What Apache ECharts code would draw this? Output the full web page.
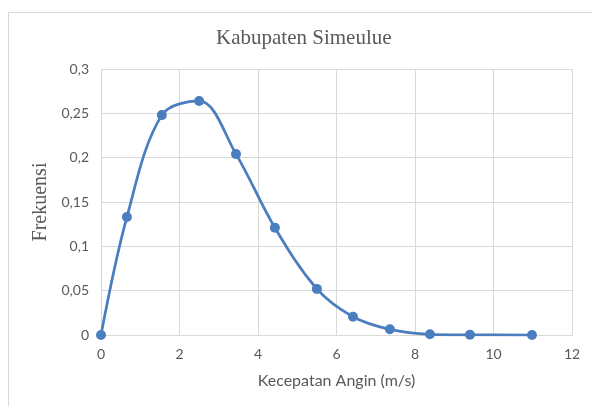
<!DOCTYPE html>
<html>
<head>
<meta charset="utf-8">
<script src="https://cdn.jsdelivr.net/npm/echarts@6/dist/echarts.min.js"></script>
<style>
  html, body { margin: 0; padding: 0; background: #fff; }
  #chart { width: 592px; height: 406px; }
</style>
</head>
<body>
<div id="chart"></div>
<script>
// kecepatan angin (m/s) dan frekuensi
const kecepatan = [0, 0.66, 1.55, 2.5, 3.44, 4.43, 5.5, 6.42, 7.36, 8.38, 9.4, 10.98];
const frekuensi = [0, 0.133, 0.248, 0.264, 0.204, 0.121, 0.052, 0.0206, 0.0064, 0.0008, 0.0002, 0];
const xTicks = { min: 0, max: 12, interval: 2 };
const yTicks = { min: 0, max: 0.3, interval: 0.05 };

let data = [];
for (let i = 0; i < kecepatan.length; i++) {
  data.push([kecepatan[i], frekuensi[i]]);
}

const grey = '#595959';
const chart = echarts.init(document.getElementById('chart'));
chart.setOption({
  animation: false,
  backgroundColor: '#fff',
  title: {
    text: 'Kabupaten Simeulue',
    left: 211,
    top: 23,
    textStyle: { fontFamily: 'Liberation Serif', fontSize: 21, fontWeight: 'normal', color: grey }
  },
  graphic: [{
    type: 'rect',
    shape: { x: 8.5, y: 12.5, width: 600, height: 420 },
    style: { fill: 'none', stroke: '#d9d9d9', lineWidth: 1 },
    silent: true
  }],
  grid: { left: 101, right: 20, top: 69, bottom: 71 },
  xAxis: {
    type: 'value',
    min: xTicks.min, max: xTicks.max, interval: xTicks.interval,
    name: 'Kecepatan Angin (m/s)',
    nameLocation: 'middle',
    nameGap: 38,
    nameTextStyle: { fontFamily: 'Lato', fontSize: 16, color: grey },
    axisLine: { lineStyle: { color: '#d9d9d9' } },
    axisTick: { show: false },
    axisLabel: { fontFamily: 'Lato', fontSize: 14, color: grey, margin: 12 },
    splitLine: { lineStyle: { color: '#d9d9d9' } }
  },
  yAxis: {
    type: 'value',
    min: yTicks.min, max: yTicks.max, interval: yTicks.interval,
    name: 'Frekuensi',
    nameLocation: 'middle',
    nameGap: 48,
    nameTextStyle: { fontFamily: 'Liberation Serif', fontSize: 20, color: grey },
    axisLine: { show: false },
    axisTick: { show: false },
    axisLabel: {
      fontFamily: 'Lato', fontSize: 14, color: grey, margin: 12,
      formatter: v => String(+v.toFixed(2)).replace('.', ',')
    },
    splitLine: { lineStyle: { color: '#d9d9d9' } }
  },
  series: [{
    type: 'line',
    data: data,
    smooth: 0.35,
    symbol: 'circle',
    symbolSize: 10,
    lineStyle: { color: '#4a7ebf', width: 2.75 },
    itemStyle: { color: '#4a7ebf' }
  }]
});
</script>
</body>
</html>
